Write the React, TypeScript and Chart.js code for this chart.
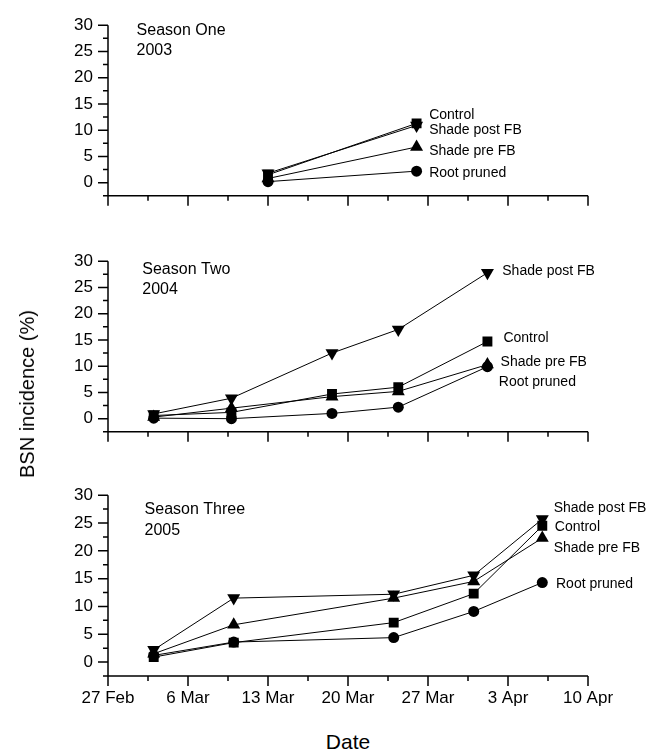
import React, { useEffect, useRef } from "react";
import { Chart, registerables } from "chart.js";

Chart.register(...registerables);

// ---------- data ----------
const DATE_LABELS = ["27 Feb", "6 Mar", "13 Mar", "20 Mar", "27 Mar", "3 Apr", "10 Apr"]; // every 7 days from 27 Feb
const Y_TICKS = [0, 5, 10, 15, 20, 25, 30];
const SERIES_NAMES = ["Control", "Shade post FB", "Shade pre FB", "Root pruned"];

// Season One 2003 (x = days after 27 Feb)
const S1_DAYS = [14, 27];
const S1_CONTROL = [1.5, 11.3];
const S1_POST = [1.8, 10.9];
const S1_PRE = [0.8, 6.8];
const S1_ROOT = [0.2, 2.2];

// Season Two 2004
const S2_DAYS = [4, 10.8, 19.6, 25.4, 33.2];
const S2_CONTROL = [0.6, 1.2, 4.7, 6.0, 14.7];
const S2_POST = [0.9, 3.9, 12.5, 17.0, 27.8];
const S2_PRE = [0.3, 2.0, 4.2, 5.2, 10.3];
const S2_ROOT = [0.1, 0.0, 1.0, 2.2, 9.9];

// Season Three 2005
const S3_DAYS = [4, 11, 25, 32, 38];
const S3_CONTROL = [0.9, 3.5, 7.1, 12.3, 24.5];
const S3_POST = [2.2, 11.5, 12.2, 15.6, 25.7];
const S3_PRE = [1.5, 6.7, 11.5, 14.5, 22.3];
const S3_ROOT = [1.2, 3.6, 4.4, 9.1, 14.3];

// annotation anchors [day, value] for series labels (order: Control, post, pre, root)
const S1_LABEL_AT = [[28.1, 12.95], [28.1, 10.1], [28.1, 5.97], [28.1, 1.76]];
const S2_LABEL_AT = [[34.6, 15.3], [34.5, 28.2], [34.35, 10.85], [34.2, 6.87]];
const S3_LABEL_AT = [[39.1, 24.2], [39.0, 27.6], [39.0, 20.4], [39.2, 14.0]];

const FONT = "'Liberation Sans', Arial, Helvetica, sans-serif";

type PanelProps = {
  top: number;
  height: number;
  xAxisHeight: number;
  showXLabels: boolean;
  days: number[];
  values: number[][];
  labelAt: number[][];
  season: string;
  year: string;
  seasonAt: number[];
  yearAt: number[];
};

const STYLES = [
  { pointStyle: "rect", rotation: 0, radius: 7 },
  { pointStyle: "triangle", rotation: 180, radius: 7.5 },
  { pointStyle: "triangle", rotation: 0, radius: 7.5 },
  { pointStyle: "circle", rotation: 0, radius: 5.5 },
];

function Panel(p: PanelProps) {
  const ref = useRef<HTMLCanvasElement | null>(null);
  useEffect(() => {
    if (!ref.current) return;
    const axesPlugin = {
      id: "axesAndText",
      afterDraw(chart: any) {
        const ctx = chart.ctx;
        const { left, right, top, bottom } = chart.chartArea;
        const xs = chart.scales.x;
        const ys = chart.scales.y;
        ctx.save();
        ctx.strokeStyle = "#000";
        ctx.lineWidth = 1.5;
        ctx.beginPath();
        ctx.moveTo(left, top);
        ctx.lineTo(left, bottom);
        ctx.moveTo(left, bottom);
        ctx.lineTo(right, bottom);
        for (let v = -2.5; v <= 30; v += 2.5) {
          const py = ys.getPixelForValue(v);
          const len = Math.abs(v % 5) < 1e-6 ? 10 : 5;
          ctx.moveTo(left - len, py);
          ctx.lineTo(left, py);
        }
        for (let d = 0; d <= 42; d += 3.5) {
          const px = xs.getPixelForValue(d);
          const len = Math.abs(d % 7) < 1e-6 ? 10 : 5;
          ctx.moveTo(px, bottom);
          ctx.lineTo(px, bottom + len);
        }
        ctx.stroke();
        // texts
        ctx.fillStyle = "#000";
        ctx.textBaseline = "middle";
        ctx.textAlign = "left";
        ctx.font = `16px ${FONT}`;
        ctx.fillText(p.season, xs.getPixelForValue(p.seasonAt[0]), ys.getPixelForValue(p.seasonAt[1]));
        ctx.fillText(p.year, xs.getPixelForValue(p.yearAt[0]), ys.getPixelForValue(p.yearAt[1]));
        ctx.font = `14px ${FONT}`;
        SERIES_NAMES.forEach((name, i) => {
          const a = p.labelAt[i];
          ctx.fillText(name, xs.getPixelForValue(a[0]), ys.getPixelForValue(a[1]));
        });
        ctx.restore();
      },
    };
    const chart = new Chart(ref.current, {
      type: "line",
      data: {
        datasets: SERIES_NAMES.map((name, i) => ({
          label: name,
          data: p.days.map((d, j) => ({ x: d, y: p.values[i][j] })),
          borderColor: "#000",
          borderWidth: 1,
          backgroundColor: "#000",
          pointBackgroundColor: "#000",
          pointBorderColor: "#000",
          pointBorderWidth: 0,
          pointStyle: STYLES[i].pointStyle as any,
          pointRotation: STYLES[i].rotation,
          pointRadius: STYLES[i].radius,
          pointHoverRadius: STYLES[i].radius,
          tension: 0,
          fill: false,
        })),
      },
      options: {
        responsive: false,
        animation: false,
        devicePixelRatio: 1,
        events: [],
        layout: { padding: { top: 15, left: 0, right: 61, bottom: 0 } },
        plugins: { legend: { display: false }, tooltip: { enabled: false } },
        scales: {
          x: {
            type: "linear",
            min: 0,
            max: 42,
            grid: { display: false, drawTicks: false, tickLength: 0 },
            border: { display: false },
            ticks: {
              display: p.showXLabels,
              stepSize: 7,
              padding: 12,
              color: "#000",
              font: { size: 17, family: FONT },
              maxRotation: 0,
              autoSkip: false,
              callback: (v: any) => {
                const n = Number(v);
                return Math.abs(n % 7) < 1e-6 ? DATE_LABELS[Math.round(n / 7)] : "";
              },
            },
            afterFit: (s: any) => {
              s.height = p.xAxisHeight;
            },
          },
          y: {
            type: "linear",
            min: -2.5,
            max: 30,
            grid: { display: false, drawTicks: false, tickLength: 0 },
            border: { display: false },
            ticks: {
              stepSize: 2.5,
              padding: 15,
              color: "#000",
              font: { size: 17, family: FONT },
              autoSkip: false,
              callback: (v: any) => {
                const n = Number(v);
                return Y_TICKS.includes(n) ? String(n) : "";
              },
            },
            afterFit: (s: any) => {
              s.width = 108;
            },
          },
        },
      },
      plugins: [axesPlugin],
    } as any);
    return () => chart.destroy();
  }, []);
  return (
    <canvas
      ref={ref}
      width={649}
      height={p.height}
      style={{ position: "absolute", left: 0, top: p.top, width: 649, height: p.height }}
    />
  );
}

export default function App() {
  return (
    <div
      style={{
        position: "absolute",
        left: 0,
        top: 0,
        width: 649,
        height: 749,
        background: "#fff",
        overflow: "hidden",
        fontFamily: FONT,
      }}
    >
      <Panel
        top={0}
        height={221}
        xAxisHeight={15}
        showXLabels={false}
        days={S1_DAYS}
        values={[S1_CONTROL, S1_POST, S1_PRE, S1_ROOT]}
        labelAt={S1_LABEL_AT}
        season="Season One"
        year="2003"
        seasonAt={[2.5, 29]}
        yearAt={[2.5, 25.2]}
      />
      <Panel
        top={236}
        height={221}
        xAxisHeight={15}
        showXLabels={false}
        days={S2_DAYS}
        values={[S2_CONTROL, S2_POST, S2_PRE, S2_ROOT]}
        labelAt={S2_LABEL_AT}
        season="Season Two"
        year="2004"
        seasonAt={[3.0, 28.35]}
        yearAt={[3.0, 24.6]}
      />
      <Panel
        top={470}
        height={251}
        xAxisHeight={45}
        showXLabels={true}
        days={S3_DAYS}
        values={[S3_CONTROL, S3_POST, S3_PRE, S3_ROOT]}
        labelAt={S3_LABEL_AT}
        season="Season Three"
        year="2005"
        seasonAt={[3.2, 27.35]}
        yearAt={[3.2, 23.7]}
      />
      <div
        style={{
          position: "absolute",
          left: 27,
          top: 394,
          transform: "translate(-50%, -50%) rotate(-90deg)",
          whiteSpace: "nowrap",
          fontSize: 20,
          lineHeight: "20px",
          color: "#000",
        }}
      >
        BSN incidence (%)
      </div>
      <div
        style={{
          position: "absolute",
          left: 348,
          top: 741,
          transform: "translate(-50%, -50%)",
          whiteSpace: "nowrap",
          fontSize: 21,
          lineHeight: "21px",
          color: "#000",
        }}
      >
        Date
      </div>
    </div>
  );
}
